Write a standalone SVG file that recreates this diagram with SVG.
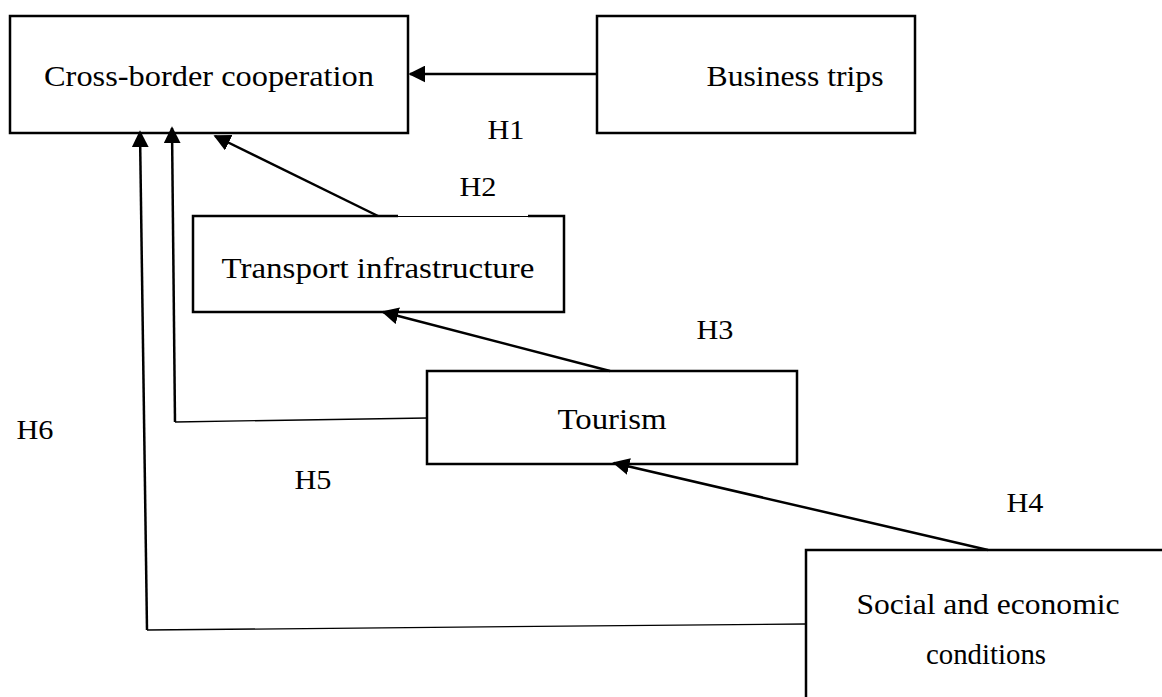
<svg xmlns="http://www.w3.org/2000/svg" width="1162" height="697" viewBox="0 0 1162 697">
<style>
.box{fill:#fff;stroke:#000;stroke-width:2.5}
.t{font-family:"Liberation Serif","Times New Roman",serif;font-size:29px;fill:#000;text-anchor:middle}
.lab{font-family:"Liberation Serif","Times New Roman",serif;font-size:28px;fill:#000;text-anchor:middle}
.arr{fill:none;stroke:#000;stroke-width:2.5}
.thin{fill:none;stroke:#000;stroke-width:1.3}
</style>
<defs>
<marker id="ah" viewBox="0 0 10 10" refX="9" refY="5" markerWidth="17" markerHeight="17" markerUnits="userSpaceOnUse" orient="auto">
<path d="M0,0 L10,5 L0,10 z" fill="#000"/>
</marker>
</defs>
<rect width="1162" height="697" fill="#fff"/>
<g id="node-cross-border">
<rect class="box" x="10" y="16" width="398" height="117"/>
<text class="t" x="209" y="86" textLength="330" lengthAdjust="spacingAndGlyphs">Cross-border cooperation</text>
</g>
<g id="node-business">
<rect class="box" x="597" y="16" width="318" height="117"/>
<text class="t" x="795" y="86" textLength="177" lengthAdjust="spacingAndGlyphs">Business trips</text>
</g>
<g id="node-transport">
<path class="box" d="M398,216 L193,216 L193,312 L564,312 L564,216 L528,216"/>
<line x1="398" y1="216.5" x2="528" y2="216.5" stroke="#000" stroke-width="1"/>
<text class="t" x="378" y="278" textLength="313" lengthAdjust="spacingAndGlyphs">Transport infrastructure</text>
</g>
<g id="node-tourism">
<rect class="box" x="427" y="371" width="370" height="93"/>
<text class="t" x="612" y="429" textLength="109" lengthAdjust="spacingAndGlyphs">Tourism</text>
</g>
<g id="node-social">
<path class="box" d="M1162,550 L806,550 L806,697"/>
<text class="t" x="988" y="614" textLength="263" lengthAdjust="spacingAndGlyphs">Social and economic</text>
<text class="t" x="986" y="664" textLength="120" lengthAdjust="spacingAndGlyphs">conditions</text>
</g>
<g id="connectors">
<line class="arr" x1="597" y1="74" x2="410" y2="74" marker-end="url(#ah)"/>
<line class="arr" x1="378" y1="216" x2="215" y2="136" marker-end="url(#ah)"/>
<line class="arr" x1="610" y1="371" x2="383" y2="312" marker-end="url(#ah)"/>
<line class="arr" x1="988" y1="550" x2="614" y2="463" marker-end="url(#ah)"/>
<polyline class="thin" points="427,418 175,422"/>
<line class="arr" x1="175" y1="422" x2="172" y2="128" stroke-width="2" marker-end="url(#ah)"/>
<polyline class="thin" points="806,624 147,630"/>
<line class="arr" x1="147" y1="630" x2="140" y2="132" stroke-width="2" marker-end="url(#ah)"/>
</g>
<g id="labels">
<text class="lab" x="506" y="139" textLength="37" lengthAdjust="spacingAndGlyphs">H1</text>
<text class="lab" x="478" y="196" textLength="37" lengthAdjust="spacingAndGlyphs">H2</text>
<text class="lab" x="715" y="339" textLength="37" lengthAdjust="spacingAndGlyphs">H3</text>
<text class="lab" x="1025" y="512" textLength="37" lengthAdjust="spacingAndGlyphs">H4</text>
<text class="lab" x="313" y="489" textLength="37" lengthAdjust="spacingAndGlyphs">H5</text>
<text class="lab" x="35" y="439" textLength="37" lengthAdjust="spacingAndGlyphs">H6</text>
</g>
</svg>
